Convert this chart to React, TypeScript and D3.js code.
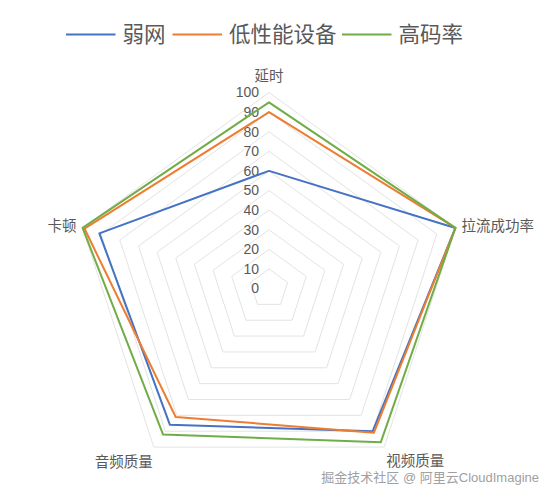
import React, { useEffect, useRef } from 'react';
import * as d3 from 'd3';

const width = 552;
const height = 497;

const axes = ['延时', '拉流成功率', '视频质量', '音频质量', '卡顿'];
const seriesNames = ['弱网', '低性能设备', '高码率'];
const colors = ['#4472C4', '#ED7D31', '#70AD47'];
const weakNet = [60, 100, 90, 86, 91];
const lowDevice = [90, 100, 91, 81, 99];
const highBitrate = [95, 100, 97, 92, 100];
const ticks = [0, 10, 20, 30, 40, 50, 60, 70, 80, 90, 100];

const fontFamily = '"Liberation Sans", Arial, "Noto Sans CJK SC", sans-serif';

const App: React.FC = () => {
  const ref = useRef<SVGSVGElement>(null);

  useEffect(() => {
    if (!ref.current) return;
    const svg = d3.select(ref.current);
    svg.selectAll('*').remove();

    const cx = 269;
    const cy = 288.5;
    const R = 196;
    const r = d3.scaleLinear().domain([0, 100]).range([0, R]);
    const angle = (i: number) => (i * 2 * Math.PI) / axes.length;
    const pt = (i: number, v: number): [number, number] => [
      cx + r(v) * Math.sin(angle(i)),
      cy - r(v) * Math.cos(angle(i)),
    ];

    // grid
    const grid = svg.append('g');
    ticks.slice(1).forEach(t => {
      const pts = axes.map((_, i) => pt(i, t));
      grid
        .append('path')
        .attr('d', d3.line()(pts) + 'Z')
        .attr('fill', 'none')
        .attr('stroke', '#e3e3e3')
        .attr('stroke-width', 1);
    });

    // tick labels
    svg
      .append('g')
      .selectAll('text')
      .data(ticks)
      .enter()
      .append('text')
      .attr('x', cx - 10)
      .attr('y', d => cy - r(d))
      .attr('dy', '0.35em')
      .attr('text-anchor', 'end')
      .attr('font-size', 14)
      .attr('font-family', fontFamily)
      .attr('fill', '#595959')
      .text(d => d);

    // series
    const data = [weakNet, lowDevice, highBitrate];
    data.forEach((vals, s) => {
      const pts = vals.map((v, i) => pt(i, v));
      svg
        .append('path')
        .attr('d', d3.line()(pts) + 'Z')
        .attr('fill', 'none')
        .attr('stroke', colors[s])
        .attr('stroke-width', 2)
        .attr('stroke-linejoin', 'round');
    });

    // axis labels
    const labelPos: { dx: number; dy: number; anchor: string }[] = [
      { dx: 0, dy: -17, anchor: 'middle' },
      { dx: 6, dy: -2, anchor: 'start' },
      { dx: 2, dy: 14, anchor: 'start' },
      { dx: -1, dy: 15, anchor: 'end' },
      { dx: -6, dy: -2, anchor: 'end' },
    ];
    axes.forEach((a, i) => {
      const [x, y] = pt(i, 100);
      svg
        .append('text')
        .attr('x', x + labelPos[i].dx)
        .attr('y', y + labelPos[i].dy)
        .attr('dy', '0.35em')
        .attr('text-anchor', labelPos[i].anchor)
        .attr('font-size', 14.5)
        .attr('font-family', fontFamily)
        .attr('fill', '#595959')
        .text(a);
    });

    // legend
    const legendX = [66, 172.5, 342];
    const legend = svg.append('g');
    seriesNames.forEach((n, s) => {
      legend
        .append('line')
        .attr('x1', legendX[s])
        .attr('x2', legendX[s] + 49.5)
        .attr('y1', 34.5)
        .attr('y2', 34.5)
        .attr('stroke', colors[s])
        .attr('stroke-width', 2.2);
      legend
        .append('text')
        .attr('x', legendX[s] + 56.5)
        .attr('y', 34.5)
        .attr('dy', '0.35em')
        .attr('font-size', 21.5)
        .attr('font-family', fontFamily)
        .attr('fill', '#595959')
        .text(n);
    });

    // watermark
    svg
      .append('text')
      .attr('x', 539)
      .attr('y', 477)
      .attr('dy', '0.35em')
      .attr('text-anchor', 'end')
      .attr('font-size', 13)
      .attr('font-family', fontFamily)
      .attr('fill', '#a0a0a0')
      .text('掘金技术社区 @ 阿里云CloudImagine');
  }, []);

  return (
    <svg
      ref={ref}
      width={width}
      height={height}
      style={{ position: 'absolute', top: 0, left: 0, background: '#fff' }}
    />
  );
};

export default App;
